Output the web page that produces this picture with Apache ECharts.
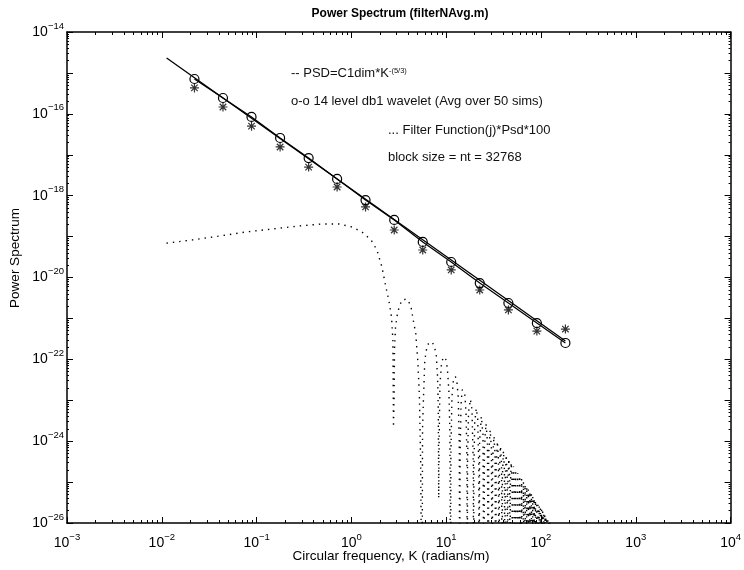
<!DOCTYPE html>
<html>
<head>
<meta charset="utf-8">
<script src="https://cdn.jsdelivr.net/npm/echarts@6/dist/echarts.min.js"></script>
<style>html,body{margin:0;padding:0;background:#fff}#c{width:744px;height:570px}</style>
</head>
<body>
<div id="c"></div>
<script>
// ---------------- data ----------------
// wavelet scale frequencies K (radians/m)
const waveletK = [0.0221, 0.0442, 0.0884, 0.177, 0.354, 0.707, 1.41, 2.83, 5.66, 11.3, 22.6, 45.3, 90.5, 181];
// o-o 14 level db1 wavelet (Avg over 50 sims)
const waveletPower = [7.1e-16, 2.44e-16, 8.4e-17, 2.57e-17, 8.3e-18, 2.56e-18, 7.8e-19, 2.55e-19, 7.4e-20, 2.39e-20, 7.3e-21, 2.38e-21, 7.7e-22, 2.51e-22];
// asterisk markers
const simPower = [4.3e-16, 1.47e-16, 5.0e-17, 1.55e-17, 5.0e-18, 1.63e-18, 5.3e-19, 1.45e-19, 4.7e-20, 1.53e-20, 4.95e-21, 1.61e-21, 4.9e-22, 5.5e-22];
// PSD = C1dim*K^-(5/3) straight line end points
const psdK = [0.01125, 181];
const psdPower = [2.32e-15, 2.8e-22];
// ... Filter Function(j)*Psd*100  (dotted), [K, value]
const filterCurve = [
  [0.0112, 6.9e-20], [0.0211, 8.3e-20], [0.0405, 1.03e-19], [0.078, 1.3e-19], [0.146, 1.53e-19],
  [0.281, 1.82e-19], [0.49, 2.03e-19], [0.74, 2.03e-19], [1.01, 1.72e-19], [1.29, 1.3e-19],
  [1.61, 8.3e-20], [1.86, 4.7e-20], [2.10, 1.8e-20], [2.31, 5.9e-21], [2.48, 2.8e-21],
  [2.65, 1.08e-21], [2.74, 3.0e-22], [2.78, 2.2e-24],
  [2.82, 1.0e-23], [2.85, 1.7e-22], [2.92, 6.2e-22], [3.08, 1.44e-21], [3.40, 2.8e-21],
  [3.84, 2.98e-21], [4.23, 2.1e-21], [4.55, 7.7e-22], [4.77, 4.4e-22], [4.89, 2.0e-22],
  [5.01, 9.6e-23], [5.13, 3.1e-23], [5.22, 1.2e-23], [5.38, 3e-25], [5.56, 1e-29],
  [5.63, 2e-24], [5.75, 1.0e-23], [5.95, 9.6e-23], [6.3, 2.2e-22], [6.7, 2.6e-22],
  [7.1, 2.65e-22], [7.5, 2.1e-22], [7.85, 1.3e-22], [8.1, 4e-23], [8.25, 6e-24], [8.34, 4e-26],
  [8.42, 1e-24], [8.6, 2.5e-23], [8.95, 8.5e-23], [9.4, 1.15e-22], [9.9, 1.0e-22],
  [10.3, 6e-23], [10.7, 1.5e-23], [10.95, 1.5e-24], [11.12, 1e-29],
  [11.22, 5e-25], [11.5, 1.2e-23], [11.95, 3.2e-23], [12.5, 3.8e-23], [12.95, 3.0e-23],
  [13.4, 1.2e-23], [13.75, 8e-25], [13.9, 1e-29],
  [14.0, 4e-25], [14.35, 8e-24], [14.75, 1.8e-23], [15.2, 2.0e-23], [15.7, 1.5e-23],
  [16.2, 5e-24], [16.55, 4e-25], [16.68, 1e-29],
  [16.8, 3e-25], [17.2, 5e-24], [18.0, 1.05e-23], [18.7, 6e-24], [19.3, 3e-25], [19.46, 1e-29],
  [19.6, 2e-25], [20.0, 3e-24], [20.8, 6.3e-24], [21.5, 3.5e-24], [22.1, 2e-25], [22.24, 1e-29],
  [22.52, 1.0e-24], [23.5, 4.0e-24], [24.46, 1.4e-24], [25.02, 1e-29],
  [25.3, 6.8e-25], [26.3, 2.7e-24], [27.24, 9.5e-25], [27.8, 1e-29],
  [28.08, 4.7e-25], [29.1, 1.87e-24], [30.02, 6.5e-25], [30.58, 1e-29],
  [30.86, 3.4e-25], [31.9, 1.34e-24], [32.8, 4.7e-25], [33.36, 1e-29],
  [33.64, 2.5e-25], [34.7, 9.9e-25], [35.58, 3.5e-25], [36.14, 1e-29],
  [36.42, 1.9e-25], [37.4, 7.6e-25], [38.36, 2.7e-25], [38.92, 1e-29],
  [39.2, 1.5e-25], [40.2, 5.8e-25], [41.14, 2.0e-25], [41.7, 1e-29],
  [41.98, 1.2e-25], [43.0, 4.6e-25], [43.92, 1.6e-25], [44.48, 1e-29],
  [44.76, 9e-26], [45.8, 3.7e-25], [46.7, 1.3e-25], [47.26, 1e-29],
  [47.54, 7.5e-26], [48.5, 3.0e-25], [49.48, 1.05e-25], [50.04, 1e-29],
  [50.32, 6e-26], [51.3, 2.4e-25], [52.26, 8.5e-26], [52.82, 1e-29],
  [54.1, 2.0e-25], [55.6, 1e-29], [56.9, 1.67e-25], [58.38, 1e-29],
  [59.7, 1.41e-25], [61.16, 1e-29], [62.5, 1.19e-25], [63.94, 1e-29],
  [65.3, 1.02e-25], [66.72, 1e-29], [68.0, 8.8e-26], [69.5, 1e-29],
  [70.8, 7.6e-26], [72.28, 1e-29], [73.6, 6.6e-26], [75.06, 1e-29],
  [76.4, 5.8e-26], [77.84, 1e-29], [79.2, 5.1e-26], [80.62, 1e-29],
  [81.9, 4.5e-26], [83.4, 1e-29], [84.7, 4.0e-26], [86.18, 1e-29],
  [87.5, 3.6e-26], [88.96, 1e-29], [90.3, 3.2e-26], [91.74, 1e-29],
  [93.1, 2.8e-26], [94.52, 1e-29], [95.8, 2.6e-26], [97.3, 1e-29],
  [98.6, 2.3e-26], [100.08, 1e-29], [101.4, 2.1e-26], [102.86, 1e-29],
  [104.2, 1.9e-26], [105.64, 1e-29], [107.0, 1.7e-26], [108.42, 1e-29],
  [109.7, 1.57e-26], [111.2, 1e-29], [112.5, 1.44e-26], [113.98, 1e-29],
  [115.3, 1.32e-26], [116.76, 1e-29], [118.1, 1.21e-26], [119.54, 1e-29],
  [120.9, 1.11e-26], [122.32, 1e-29], [123.7, 1.02e-26], [125.1, 1e-29]
];
// tick exponents
const xDecades = [-3, -2, -1, 0, 1, 2, 3, 4];
const yDecades = [-26, -25, -24, -23, -22, -21, -20, -19, -18, -17, -16, -15, -14];
const yLabelDecades = [-26, -24, -22, -20, -18, -16, -14];
const minorSteps = [2, 3, 4, 5, 6, 7, 8, 9];

const titleText = 'Power Spectrum (filterNAvg.m)';
const xName = 'Circular frequency, K (radians/m)';
const yName = 'Power Spectrum';
const notes = [
  { text: '-- PSD=C1dim*K{s|-(5/3)}', x: 291, y: 73 },
  { text: 'o-o 14 level db1 wavelet (Avg over 50 sims)', x: 291, y: 101 },
  { text: '... Filter Function(j)*Psd*100', x: 388, y: 130 },
  { text: 'block size = nt = 32768', x: 388, y: 157 }
];

// ---------------- chart ----------------
const FONT = '"Liberation Sans", Arial, Helvetica, sans-serif';
const xMinor = [];
xDecades.slice(0, -1).forEach(d => minorSteps.forEach(k => xMinor.push(d + Math.log10(k))));
const yMinor = [];
yDecades.slice(0, -1).forEach(d => minorSteps.forEach(k => yMinor.push(d + Math.log10(k))));

function supLabel(v) {
  const e = Math.round(v);
  return '{b|10}{s|' + (e < 0 ? '\u2212' + (-e) : String(e)) + '}';
}
const rich = {
  b: { fontSize: 14, verticalAlign: 'middle', fontFamily: FONT, color: '#000' },
  s: { fontSize: 9.5, verticalAlign: 'middle', padding: [0, 0, 12, 0], fontFamily: FONT, color: '#000' }
};
const lineBlack = { show: true, onZero: false, lineStyle: { color: '#000', width: 1.5 } };

function xAux(pos, ticks, len, withLine, withLabel) {
  return {
    type: 'value', min: -3, max: 4, position: pos, gridIndex: 0,
    axisLine: withLine ? lineBlack : { show: false, onZero: false },
    axisTick: { show: true, inside: true, length: len, customValues: ticks, lineStyle: { color: '#000', width: 1 } },
    axisLabel: withLabel ? { show: true, customValues: xDecades, margin: 9, formatter: supLabel, rich: rich } : { show: false },
    splitLine: { show: false }
  };
}
function yAux(pos, ticks, len, withLine, withLabel) {
  return {
    type: 'value', min: -26, max: -14, position: pos, gridIndex: 0,
    axisLine: withLine ? lineBlack : { show: false, onZero: false },
    axisTick: { show: true, inside: true, length: len, customValues: ticks, lineStyle: { color: '#000', width: 1 } },
    axisLabel: withLabel ? { show: true, customValues: yLabelDecades, margin: 3, formatter: supLabel, rich: rich } : { show: false },
    splitLine: { show: false }
  };
}

const option = {
  animation: false,
  backgroundColor: '#fff',
  grid: { left: 67, right: 11, top: 32, bottom: 47, containLabel: false },
  xAxis: [
    { type: 'log', logBase: 10, min: 1e-3, max: 1e4, show: false, gridIndex: 0 },
    xAux('bottom', xDecades, 6, true, true),
    xAux('bottom', xMinor, 3, false, false),
    xAux('top', xDecades, 6, true, false),
    xAux('top', xMinor, 3, false, false)
  ],
  yAxis: [
    { type: 'log', logBase: 10, min: 1e-26, max: 1e-14, show: false, gridIndex: 0 },
    yAux('left', yDecades, 6, true, true),
    yAux('left', yMinor, 2, false, false),
    yAux('right', yDecades, 6, true, false),
    yAux('right', yMinor, 2, false, false)
  ],
  series: [
    {
      name: 'Filter Function(j)*Psd*100', type: 'line', xAxisIndex: 0, yAxisIndex: 0,
      data: filterCurve, symbol: 'none', clip: true, silent: true,
      lineStyle: { color: '#000', width: 1.4, type: [1.4, 5] }, z: 1
    },
    {
      name: 'PSD', type: 'line', xAxisIndex: 0, yAxisIndex: 0,
      data: psdK.map((k, i) => [k, psdPower[i]]), symbol: 'none', clip: true, silent: true,
      lineStyle: { color: '#000', width: 1.3 }, z: 2
    },
    {
      name: 'wavelet', type: 'line', xAxisIndex: 0, yAxisIndex: 0,
      data: waveletK.map((k, i) => [k, waveletPower[i]]), symbol: 'circle', symbolSize: 9, showSymbol: true,
      clip: true, silent: true,
      itemStyle: { color: 'rgba(255,255,255,0)', borderColor: '#000', borderWidth: 1.2 },
      lineStyle: { color: '#000', width: 1.2 }, z: 3
    },
    {
      name: 'sims', type: 'scatter', xAxisIndex: 0, yAxisIndex: 0,
      data: waveletK.map((k, i) => [k, simPower[i]]),
      symbol: 'path://M0,-5L0,5M-5,0L5,0M-3.6,-3.6L3.6,3.6M-3.6,3.6L3.6,-3.6', symbolSize: 9,
      silent: true,
      itemStyle: { color: '#000', borderColor: '#000', borderWidth: 1.2 }, z: 4
    }
  ],
  graphic: [
    {
      type: 'text', x: 400, y: 14, silent: true,
      style: { text: titleText, fontFamily: FONT, fontSize: 12, fontWeight: 'bold', fill: '#000',
               align: 'center', verticalAlign: 'middle', textAlign: 'center', textVerticalAlign: 'middle' }
    },
    {
      type: 'text', x: 391, y: 556, silent: true,
      style: { text: xName, fontFamily: FONT, fontSize: 13.5, fill: '#000',
               align: 'center', verticalAlign: 'middle', textAlign: 'center', textVerticalAlign: 'middle' }
    },
    {
      type: 'text', x: 15, y: 258, rotation: Math.PI / 2, silent: true,
      style: { text: yName, fontFamily: FONT, fontSize: 13.5, fill: '#000',
               align: 'center', verticalAlign: 'middle', textAlign: 'center', textVerticalAlign: 'middle' }
    }
  ].concat(notes.map(n => ({
    type: 'text', x: n.x, y: n.y, silent: true,
    style: {
      text: n.text, fontFamily: FONT, fontSize: 13, fill: '#111',
      align: 'left', verticalAlign: 'middle', textAlign: 'left', textVerticalAlign: 'middle',
      rich: { s: { fontSize: 7.5, lineHeight: 10, verticalAlign: 'top', fontFamily: FONT, fill: '#111', color: '#111' } }
    }
  })))
};

const chart = echarts.init(document.getElementById('c'), null, { renderer: 'canvas' });
chart.setOption(option);
</script>
</body>
</html>
